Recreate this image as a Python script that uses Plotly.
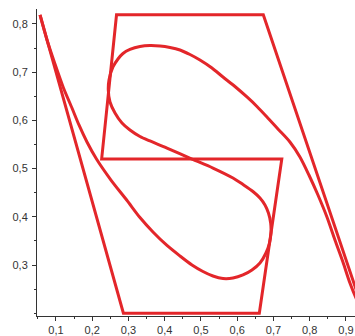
import plotly.graph_objects as go

# Control polygon (data units)
poly_x = [0.056, 0.286, 0.661, 0.723, 0.226, 0.267, 0.672, 0.950]
poly_y = [0.819, 0.200, 0.200, 0.520, 0.520, 0.819, 0.819, 0.200]

# Curve points
curve_x = [0.0559, 0.0752, 0.0972, 0.1207, 0.1441, 0.1634, 0.1855, 0.2117, 0.2517, 0.2950,
           0.3317, 0.3676, 0.4062, 0.4421, 0.4752, 0.5055, 0.5331, 0.5607, 0.5883, 0.6159,
           0.6407, 0.6628, 0.6793, 0.6890, 0.6931, 0.6923, 0.6862, 0.6766, 0.6628, 0.6434,
           0.6159, 0.5883, 0.5331, 0.4752, 0.4062, 0.3593, 0.3317, 0.3041, 0.2821, 0.2628,
           0.2490, 0.2443, 0.2462, 0.2572, 0.2710, 0.2848, 0.3041, 0.3317, 0.3593, 0.3869,
           0.4145, 0.4421, 0.4697, 0.4972, 0.5303, 0.5607, 0.5938, 0.6269, 0.6545, 0.6821,
           0.7124, 0.7455, 0.7731, 0.7979, 0.8228, 0.8476, 0.8697, 0.8917, 0.9110, 0.9303,
           0.9497]
curve_y = [0.8187, 0.7668, 0.7170, 0.6672, 0.6257, 0.5905, 0.5552, 0.5199, 0.4763, 0.4349,
           0.3985, 0.3685, 0.3405, 0.3187, 0.3000, 0.2865, 0.2772, 0.2720, 0.2730, 0.2793,
           0.2896, 0.3041, 0.3249, 0.3456, 0.3664, 0.3871, 0.4079, 0.4245, 0.4390, 0.4525,
           0.4670, 0.4805, 0.5012, 0.5199, 0.5427, 0.5573, 0.5666, 0.5801, 0.5946, 0.6154,
           0.6382, 0.6631, 0.6838, 0.7108, 0.7274, 0.7388, 0.7471, 0.7533, 0.7554, 0.7544,
           0.7513, 0.7461, 0.7367, 0.7253, 0.7087, 0.6900, 0.6703, 0.6486, 0.6289, 0.6071,
           0.5822, 0.5552, 0.5241, 0.4867, 0.4452, 0.3996, 0.3519, 0.3062, 0.2627, 0.2274,
           0.2004]

x_ticks = [0.1, 0.2, 0.3, 0.4, 0.5, 0.6, 0.7, 0.8, 0.9]
x_labels = ["0,1", "0,2", "0,3", "0,4", "0,5", "0,6", "0,7", "0,8", "0,9"]
y_ticks = [0.3, 0.4, 0.5, 0.6, 0.7, 0.8]
y_labels = ["0,3", "0,4", "0,5", "0,6", "0,7", "0,8"]

RED = "#e3262a"

fig = go.Figure()
fig.add_trace(go.Scatter(x=poly_x, y=poly_y, mode="lines",
                         line=dict(color=RED, width=3), hoverinfo="skip"))
fig.add_trace(go.Scatter(x=curve_x, y=curve_y, mode="lines",
                         line=dict(color=RED, width=3, shape="spline", smoothing=0.8),
                         hoverinfo="skip"))

axis_common = dict(showgrid=False, zeroline=False, showline=True, linecolor="#333",
                   linewidth=1, ticks="outside", ticklen=4, tickcolor="#333",
                   automargin=False,
                   tickfont=dict(family="Liberation Sans, Arial, sans-serif", size=11,
                                 color="#333"))

fig.update_layout(
    width=355, height=336,
    margin=dict(l=37, r=0, t=9, b=20),
    paper_bgcolor="white", plot_bgcolor="white",
    showlegend=False,
    xaxis=dict(range=[0.0476, 0.925], tickvals=x_ticks, ticktext=x_labels,
               ticklabelstandoff=0,
               minor=dict(dtick=0.05, tick0=0.05, ticks="outside", ticklen=2, tickcolor="#333"),
               **axis_common),
    yaxis=dict(range=[0.1942, 0.8311], tickvals=y_ticks, ticktext=y_labels,
               ticklabelstandoff=2,
               minor=dict(dtick=0.05, tick0=0.05, ticks="outside", ticklen=2, tickcolor="#333"),
               **axis_common),
)

fig.write_html("out.html", config={"displayModeBar": False},
               post_script="document.body.style.margin='0';document.body.style.overflow='hidden';")
